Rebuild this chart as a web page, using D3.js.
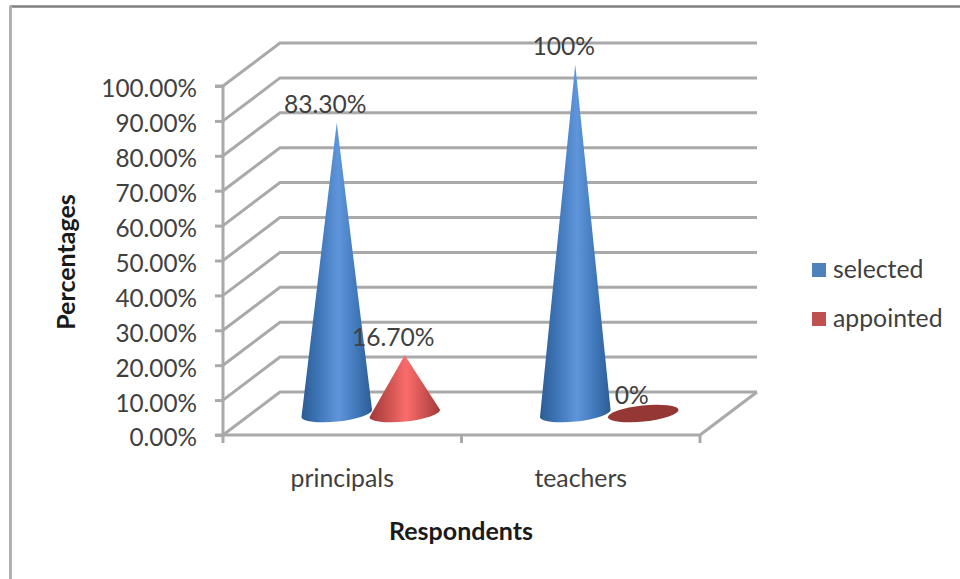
<!DOCTYPE html>
<html>
<head>
<meta charset="utf-8">
<script src="https://d3js.org/d3.v7.min.js"></script>
<style>
html, body { margin: 0; padding: 0; background: #fff; }
svg { display: block; }
text { font-family: Lato, "Open Sans", sans-serif; fill: #404040; }
</style>
</head>
<body>
<svg id="chart" width="960" height="579"></svg>
<script>
// Chart data
const categories = ["principals", "teachers"];
const seriesNames = ["selected", "appointed"];
const selectedValues = [83.3, 100];
const appointedValues = [16.7, 0];
const selectedLabels = ["83.30%", "100%"];
const appointedLabels = ["16.70%", "0%"];
const yTicks = [0, 10, 20, 30, 40, 50, 60, 70, 80, 90, 100];

// Oblique projection of the 3D box
const frontLeft = 223, frontRight = 700, frontBottom = 435, frontTop = 86;
const depthX = 57, depthY = 43;
const midX = depthX / 2, midY = depthY / 2;

const svg = d3.select("#chart");

const gridColor = "#a9a9a9";
const lineWidth = 3;
const palette = {
  selected: { dark: "#2c5c94", mid: "#3f76b8", light: "#5f95da", flat: "#4f81bd" },
  appointed: { dark: "#a33a38", mid: "#c9504e", light: "#fb6c6c", flat: "#c0504d" }
};

const y = d3.scaleLinear().domain([0, 100]).range([frontBottom, frontTop]);
const x0 = d3.scaleBand().domain(categories).range([frontLeft, frontRight]);
const x1 = d3.scaleBand().domain(seriesNames).range([0, x0.bandwidth()]).paddingInner(0).paddingOuter(0.754);

// Horizontal shading that gives the cones their round look
const defs = svg.append("defs");
seriesNames.forEach(name => {
  const c = palette[name];
  const g = defs.append("linearGradient").attr("id", "cone-" + name)
    .attr("x1", 0).attr("x2", 1).attr("y1", 0).attr("y2", 0);
  [[0, c.dark], [0.25, c.mid], [0.52, c.light], [0.8, c.mid], [1, c.dark]].forEach(([o, col]) =>
    g.append("stop").attr("offset", o).attr("stop-color", col));
});

// Outer chart border: top and left edges
svg.append("line").attr("x1", 10).attr("x2", 960).attr("y1", 6.5).attr("y2", 6.5)
  .attr("stroke", "#7f7f7f").attr("stroke-width", 2.5);
svg.append("line").attr("x1", 10.5).attr("x2", 10.5).attr("y1", 6).attr("y2", 579)
  .attr("stroke", "#b0b0b0").attr("stroke-width", 3);

// Back wall and side wall gridlines
const grid = svg.append("g").attr("fill", "none").attr("stroke", gridColor).attr("stroke-width", lineWidth);
yTicks.forEach(t => {
  grid.append("path").attr("d", d3.line()([
    [frontLeft, y(t)],
    [frontLeft + depthX, y(t) - depthY],
    [frontRight + depthX, y(t) - depthY]
  ]));
});
// Right edge of the floor
grid.append("path").attr("d", d3.line()([
  [frontRight, y(0)],
  [frontRight + depthX, y(0) - depthY]
]));

// Value axis
const yAxis = svg.append("g").attr("transform", `translate(${frontLeft},0)`)
  .call(d3.axisLeft(y).tickValues(yTicks).tickSize(8).tickPadding(18)
    .tickFormat(d => d3.format(".2f")(d) + "%"));
yAxis.selectAll("path, line").attr("stroke", gridColor).attr("stroke-width", lineWidth);
yAxis.select("path").attr("d", `M-8,${frontTop}H0V${frontBottom}H-8`);
yAxis.selectAll("text").attr("font-size", 24.3).attr("font-family", "Lato").style("fill", "#404040").attr("dy", "0.45em");

// Category axis
const xAxis = svg.append("g").attr("transform", `translate(0,${frontBottom})`)
  .call(d3.axisBottom(x0).tickSize(0).tickPadding(34));
xAxis.select("path").attr("stroke", gridColor).attr("stroke-width", lineWidth).attr("d", `M${frontLeft},0H${frontRight}`);
xAxis.selectAll("text").attr("font-size", 24.8).attr("font-family", "Lato").style("fill", "#404040");
xAxis.selectAll(".tick line").remove();
const catTicks = [frontLeft, frontLeft + x0.step(), frontRight];
svg.append("g").selectAll("line").data(catTicks).join("line")
  .attr("x1", d => d).attr("x2", d => d)
  .attr("y1", frontBottom).attr("y2", frontBottom + 8)
  .attr("stroke", gridColor).attr("stroke-width", lineWidth);

// Cones: an apex at the value height over a tilted elliptical base on the mid-depth plane
const baseRx = 35.5, baseRy = 8, tilt = -6;
const cos = Math.cos(tilt * Math.PI / 180), sin = Math.sin(tilt * Math.PI / 180);
function conePath(cx, cy, apexY) {
  const lx = cx - baseRx * cos, ly = cy - baseRx * sin;
  const rx = cx + baseRx * cos, ry = cy + baseRx * sin;
  return `M${cx},${apexY}L${lx},${ly}A${baseRx},${baseRy} ${tilt} 0 0 ${rx},${ry}Z`;
}

const rows = [
  { name: "appointed", values: appointedValues, labels: appointedLabels },
  { name: "selected", values: selectedValues, labels: selectedLabels }
];
const baseY = y(0) - midY;
const coneX = (cat, name) => x0(cat) + x1(name) + x1.bandwidth() / 2 + midX;

rows.forEach(row => {
  categories.forEach((cat, i) => {
    const v = row.values[i];
    const cx = coneX(cat, row.name);
    if (v > 0) {
      svg.append("path")
        .attr("d", conePath(cx, baseY, y(v) - midY))
        .attr("fill", `url(#cone-${row.name})`);
    } else {
      // A zero value collapses the cone to its base disc
      svg.append("ellipse")
        .attr("transform", `translate(${cx},${baseY}) rotate(${tilt})`)
        .attr("rx", baseRx).attr("ry", baseRy)
        .attr("fill", "#953735");
    }
  });
});

// Value labels sit on top of every cone
rows.slice().reverse().forEach(row => {
  categories.forEach((cat, i) => {
    svg.append("text")
      .attr("x", coneX(cat, row.name) - 11.5)
      .attr("y", y(row.values[i]) - midY - 9.5)
      .attr("text-anchor", "middle")
      .attr("font-size", 24.6)
      .text(row.labels[i]);
  });
});

// Axis titles
svg.append("text").attr("x", 461).attr("y", 540).attr("text-anchor", "middle")
  .attr("font-size", 25).attr("font-weight", 700).style("fill", "#1a1a1a").text("Respondents");
svg.append("text").attr("transform", "translate(75,262) rotate(-90)").attr("text-anchor", "middle")
  .attr("font-size", 25).attr("font-weight", 700).style("fill", "#1a1a1a").text("Percentages");

// Legend
const legend = svg.append("g").selectAll("g").data(seriesNames).join("g")
  .attr("transform", (d, i) => `translate(812,${263 + i * 49})`);
legend.append("rect").attr("width", 14).attr("height", 14)
  .attr("fill", d => palette[d].flat);
legend.append("text").attr("x", 21).attr("y", 15).attr("font-size", 24.8).text(d => d);
</script>
</body>
</html>
